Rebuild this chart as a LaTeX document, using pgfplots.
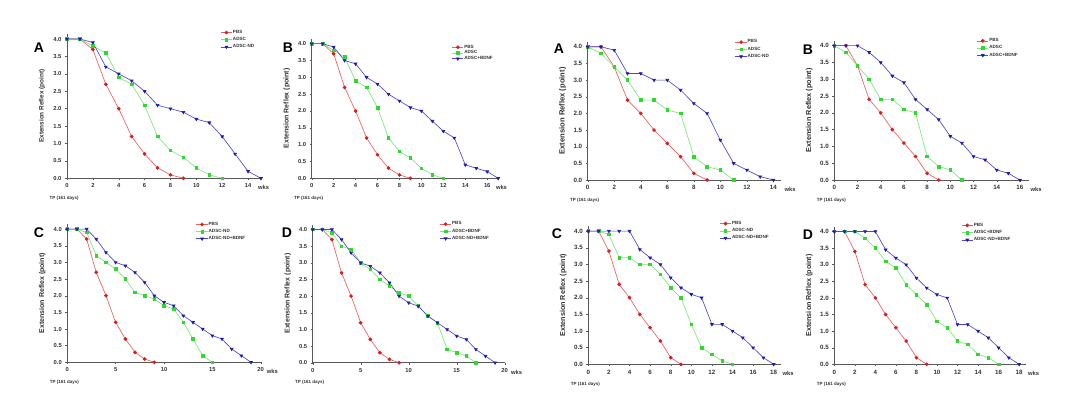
\documentclass[border=0pt]{standalone}
\usepackage{fontspec}
\setmainfont{Liberation Sans}
\usepackage{pgfplots}
\usepackage{pgfplotstable}
\pgfplotsset{compat=1.18}

\definecolor{redl}{RGB}{236,95,95}
\definecolor{redm}{RGB}{215,30,30}
\definecolor{greenl}{RGB}{120,232,120}
\definecolor{greenm}{RGB}{50,215,50}
\definecolor{bluel}{RGB}{80,70,205}
\definecolor{bluem}{RGB}{30,30,165}
\definecolor{axc}{RGB}{90,90,90}

% left-hand set
\pgfplotstableread{
x y
0 4
1 4
2 3.7
3 2.7
4 2.0
5 1.2
6 0.7
7 0.3
8 0.1
9 0
}\pbsL
\pgfplotstableread{
x y
0 4
1 4
2 3.8
3 3.6
4 2.9
5 2.7
6 2.1
7 1.2
8 0.8
9 0.6
10 0.3
11 0.1
12 0
}\adscL
\pgfplotstableread{
x y
0 4
1 4
2 3.9
3 3.2
4 3.0
5 2.8
6 2.5
7 2.1
8 2.0
9 1.9
10 1.7
11 1.6
12 1.2
13 0.7
14 0.2
15 0
}\ndL
\pgfplotstableread{
x y
0 4
1 4
2 3.9
3 3.5
4 3.4
5 3.0
6 2.8
7 2.5
8 2.3
9 2.1
10 2.0
11 1.7
12 1.4
13 1.2
14 0.4
15 0.3
16 0.2
17 0
}\bdnfL
\pgfplotstableread{
x y
0 4
1 4
2 4
3 3.7
4 3.3
5 3.0
6 2.9
7 2.7
8 2.4
9 2.0
10 1.8
11 1.7
12 1.4
13 1.2
14 1.0
15 0.8
16 0.7
17 0.4
18 0.2
19 0
}\ndbL
% right-hand set
\pgfplotstableread{
x y
0 4
1 4
2 3.4
3 2.4
4 2.0
5 1.5
6 1.1
7 0.7
8 0.2
9 0
}\pbsR
\pgfplotstableread{
x y
0 4
1 3.8
2 3.4
3 3.0
4 2.4
5 2.4
6 2.1
7 2.0
8 0.7
9 0.4
10 0.3
11 0
}\adscR
\pgfplotstableread{
x y
0 4
1 4
2 3.9
3 3.2
4 3.2
5 3.0
6 3.0
7 2.7
8 2.3
9 2.0
10 1.2
11 0.5
12 0.3
13 0.1
14 0
}\ndR
\pgfplotstableread{
x y
0 4
1 4
2 4
3 3.8
4 3.5
5 3.1
6 2.9
7 2.4
8 2.1
9 1.8
10 1.3
11 1.1
12 0.7
13 0.6
14 0.3
15 0.2
16 0
}\bdnfR
\pgfplotstableread{
x y
0 4
1 4
2 4
3 4
4 4
5 3.45
6 3.2
7 3.0
8 2.6
9 2.3
10 2.1
11 2.0
12 1.2
13 1.2
14 1.0
15 0.8
16 0.5
17 0.2
18 0
}\ndbR

\newcommand\tickfont{\fontsize{5.8}{6}\selectfont\bfseries}
\newcommand\tickfontR{\fontsize{6.2}{6.5}\selectfont\bfseries}
\pgfplotsset{
  panel/.style={
    scale only axis, axis lines=left,
    axis line style={axc, line width=0.5pt, -},
    xmin=0, ymin=0, ymax=4.15,
    ytick={0,0.5,1,1.5,2,2.5,3,3.5,4},
    y tick label style={/pgf/number format/.cd, fixed, fixed zerofill, precision=1, /tikz/.cd},
    /pgf/number format/assume math mode=true,
    tick align=outside, major tick length=2pt, tick style={axc, line width=0.4pt},
    ticklabel style={font=\tickfont, text=black!80},
    every axis y label/.style={at={(axis description cs:0,0.5)}, xshift=-25pt, rotate=90, anchor=center},
    ylabel style={font=\fontsize{6.5}{7}\selectfont\bfseries, text=black!80},
    ylabel={Extension Reflex (point)},
    every axis x label/.style={at={(axis description cs:0,0)}, anchor=west, xshift=-21pt, yshift=-20pt},
    xlabel style={font=\fontsize{4.5}{5}\selectfont\bfseries, text=black!80},
    xlabel={TP (161 days)},
    legend style={draw=none, fill=none, font=\fontsize{4.6}{5}\selectfont\bfseries, anchor=north west,
      row sep=1.5pt, inner sep=0pt, nodes={inner sep=0.5pt, text=black!80}},
    legend cell align=left,
    legend image code/.code={\draw[mark repeat=2, mark phase=2] plot coordinates {(0cm,0cm)(0.2cm,0cm)(0.4cm,0cm)};},
    clip=false,
  },
  right panel/.style={ticklabel style={font=\tickfontR}},
  ylf/.style={ylabel style={font=\fontsize{#1}{#1}\selectfont\bfseries}},
  rp/.style={draw=redl, line width=0.65pt, mark=*, mark size=1.5pt, mark options={fill=redm, draw=redm}},
  gp/.style={draw=greenl, line width=0.65pt, mark=square*, mark size=1.3pt, mark options={fill=greenm, draw=greenm}},
  bp/.style={draw=bluel, line width=0.65pt, mark=triangle*, mark size=1.6pt, mark options={fill=bluem, draw=bluem, rotate=180}},
}
\newcommand\wks[1]{\node[font=\tickfont, text=black!80, yshift=-9.4pt] at (axis cs:#1,0) {wks};}
\newcommand\plab[3]{\node[font=\fontsize{14}{14}\selectfont\bfseries] at (#1pt,-#2pt) {#3};}

\begin{document}
\begin{tikzpicture}
\path[use as bounding box] (0,0) rectangle (1074pt,-407pt);

% P1
\begin{axis}[panel, ylf=6.4, at={(67pt,-178.3pt)}, anchor=south west, width=194pt, height=144.5pt,
  xmax=15, xtick={0,2,...,14}, legend style={at={(0.79,1.03)}}]
\addplot[rp] table[x=x,y=y]{\pbsL}; \addlegendentry{PBS}
\addplot[gp] table[x=x,y=y]{\adscL}; \addlegendentry{ADSC}
\addplot[bp] table[x=x,y=y]{\ndL}; \addlegendentry{ADSC-ND}
\wks{15.2}
\end{axis}

% P2
\begin{axis}[panel, ylf=7, at={(311.7pt,-178.3pt)}, anchor=south west, width=186.5pt, height=139.7pt,
  xmax=17, xtick={0,2,...,16}, legend style={at={(0.75,0.96)}, row sep=0pt}]
\addplot[rp] table[x=x,y=y]{\pbsL}; \addlegendentry{PBS}
\addplot[gp] table[x=x,y=y]{\adscL}; \addlegendentry{ADSC}
\addplot[bp] table[x=x,y=y]{\bdnfL}; \addlegendentry{ADSC+BDNF}
\wks{17.3}
\end{axis}

% P3
\begin{axis}[panel, right panel, ylf=7.6, at={(587.7pt,-180pt)}, anchor=south west, width=193.7pt, height=138.2pt,
  xmax=14.6, xtick={0,2,...,14}, legend style={at={(0.76,1.02)}}]
\addplot[rp] table[x=x,y=y]{\pbsR}; \addlegendentry{PBS}
\addplot[gp] table[x=x,y=y]{\adscR}; \addlegendentry{ADSC}
\addplot[bp] table[x=x,y=y]{\ndR}; \addlegendentry{ADSC-ND}
\wks{15.25}
\end{axis}

% P4
\begin{axis}[panel, right panel, ylf=7.3, at={(834.3pt,-180pt)}, anchor=south west, width=194.9pt, height=139.4pt,
  xmax=16.8, xtick={0,2,...,16}, legend style={at={(0.73,1.02)}}]
\addplot[rp] table[x=x,y=y]{\pbsR}; \addlegendentry{PBS}
\addplot[gp] table[x=x,y=y]{\adscR}; \addlegendentry{ADSC}
\addplot[bp] table[x=x,y=y]{\bdnfR}; \addlegendentry{ADSC+BDNF}
\wks{17.4}
\end{axis}

% P5
\begin{axis}[panel, ylf=7, at={(67.3pt,-362.3pt)}, anchor=south west, width=193.4pt, height=138.2pt,
  xmax=20, xtick={0,5,...,20}, legend style={at={(0.665,1.02)}}]
\addplot[rp] table[x=x,y=y]{\pbsL}; \addlegendentry{PBS}
\addplot[gp] table[x=x,y=y]{\ndL}; \addlegendentry{ADSC-ND}
\addplot[bp] table[x=x,y=y]{\ndbL}; \addlegendentry{ADSC-ND+BDNF}
\wks{21.2}
\end{axis}

% P6
\begin{axis}[panel, ylf=7, at={(312.7pt,-362.7pt)}, anchor=south west, width=192pt, height=138.2pt,
  xmax=20, xtick={0,5,...,20}, legend style={at={(0.66,1.025)}}]
\addplot[rp] table[x=x,y=y]{\pbsL}; \addlegendentry{PBS}
\addplot[gp] table[x=x,y=y]{\bdnfL}; \addlegendentry{ADSC+BDNF}
\addplot[bp] table[x=x,y=y]{\ndbL}; \addlegendentry{ADSC-ND+BDNF}
\wks{21.25}
\end{axis}

% P7
\begin{axis}[panel, right panel, ylf=7.2, at={(588.3pt,-364.3pt)}, anchor=south west, width=192.6pt, height=138.2pt,
  xmax=18.7, xtick={0,2,...,18}, legend style={at={(0.68,1.04)}}]
\addplot[rp] table[x=x,y=y]{\pbsR}; \addlegendentry{PBS}
\addplot[gp] table[x=x,y=y]{\ndR}; \addlegendentry{ADSC-ND}
\addplot[bp] table[x=x,y=y]{\ndbR}; \addlegendentry{ADSC-ND+BDNF}
\wks{19.4}
\end{axis}

% P8
\begin{axis}[panel, right panel, ylf=7.2, at={(834.3pt,-364.3pt)}, anchor=south west, width=192pt, height=137.8pt,
  xmax=18.7, xtick={0,2,...,18}, legend style={at={(0.66,1.03)}}]
\addplot[rp] table[x=x,y=y]{\pbsR}; \addlegendentry{PBS}
\addplot[gp] table[x=x,y=y]{\bdnfR}; \addlegendentry{ADSC+BDNF}
\addplot[bp] table[x=x,y=y]{\ndbR}; \addlegendentry{ADSC-ND+BDNF}
\wks{19.4}
\end{axis}

\plab{39}{48}{A}
\plab{288}{48}{B}
\plab{559}{49}{A}
\plab{808}{50}{B}
\plab{39}{233}{C}
\plab{287}{233}{D}
\plab{557}{234}{C}
\plab{808}{235}{D}
\end{tikzpicture}
\end{document}
